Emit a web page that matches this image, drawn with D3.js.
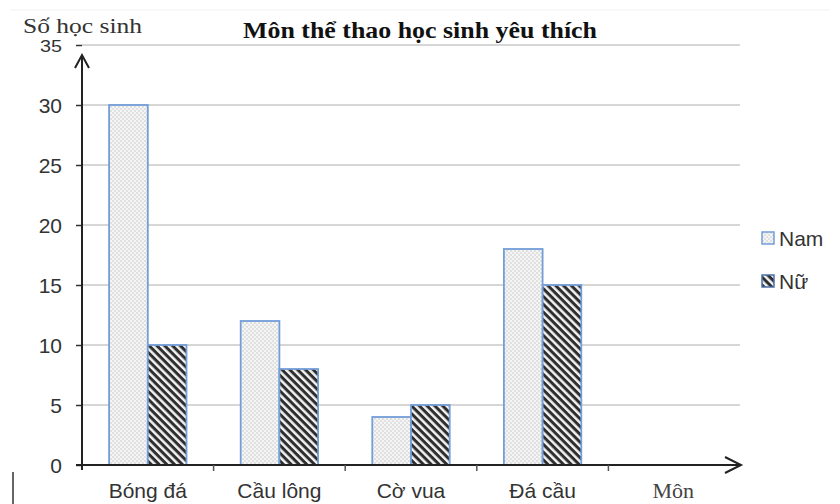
<!DOCTYPE html>
<html><head><meta charset="utf-8">
<script src="https://cdn.jsdelivr.net/npm/d3@7"></script>
<style>body{margin:0;background:#fff}svg{display:block}</style>
</head><body>
<script>
const categories = ["Bóng đá", "Cầu lông", "Cờ vua", "Đá cầu"];
const seriesNames = ["Nam", "Nữ"];
const namValues = [30, 12, 4, 18];
const nuValues = [10, 8, 5, 15];
const yTicks = [0, 5, 10, 15, 20, 25, 30, 35];
const title = "Môn thể thao học sinh yêu thích";
const yTitle = "Số học sinh";
const xTitle = "Môn";

const W = 840, H = 504;
const sans = "Arial, 'Liberation Sans', sans-serif";
const serif = "'Times New Roman', 'Liberation Serif', serif";
const svg = d3.select("body").append("svg").attr("width", W).attr("height", H);
const defs = svg.append("defs");
const dots = defs.append("pattern").attr("id","dots").attr("patternUnits","userSpaceOnUse").attr("width",4).attr("height",4);
dots.append("rect").attr("width",4).attr("height",4).attr("fill","#f5f5f5");
dots.append("circle").attr("cx",1).attr("cy",1).attr("r",0.75).attr("fill","#c2c2c2");
dots.append("circle").attr("cx",3).attr("cy",3).attr("r",0.75).attr("fill","#c2c2c2");
const stripes = defs.append("pattern").attr("id","stripes").attr("patternUnits","userSpaceOnUse").attr("width",5.5).attr("height",5.5).attr("patternTransform","rotate(45)");
stripes.append("rect").attr("width",5.5).attr("height",5.5).attr("fill","#f2f2f2");
stripes.append("rect").attr("width",5.5).attr("height",3).attr("fill","#2e2e2e");

// faint top line
svg.append("line").attr("x1",10).attr("x2",830).attr("y1",10).attr("y2",10).attr("stroke","#f2f2f2");

const x0 = 82, x1 = 740, yBase = 465, yTop = 45;
const slots = categories.concat([""]);
const x = d3.scaleBand().domain(d3.range(slots.length)).range([x0, x1]).paddingInner(0).paddingOuter(0);
const y = d3.scaleLinear().domain([0, 35]).range([yBase, yTop]);
const xs = d3.scaleBand().domain(seriesNames).range([0, x.bandwidth()]).paddingInner(0).paddingOuter(0.7);

// grid
svg.append("g").selectAll("line").data(yTicks.filter(d => d > 0)).join("line")
  .attr("x1", x0).attr("x2", x1).attr("y1", d => y(d)).attr("y2", d => y(d))
  .attr("stroke", "#c8c8c8").attr("stroke-width", 1.5);

// bars
const data = categories.map((c, i) => ({i, vals: [namValues[i], nuValues[i]]}));
const g = svg.append("g");
data.forEach(d => {
  seriesNames.forEach((s, j) => {
    g.append("rect")
      .attr("x", x(d.i) + xs(s)).attr("width", xs.bandwidth())
      .attr("y", y(d.vals[j])).attr("height", yBase - y(d.vals[j]))
      .attr("fill", j === 0 ? "url(#dots)" : "url(#stripes)")
      .attr("stroke", "#739ed8").attr("stroke-width", 1.8);
  });
});

// y axis
const yAxis = d3.axisLeft(y).tickValues(yTicks).tickSize(6).tickPadding(14);
const ya = svg.append("g").attr("transform", `translate(${x0},0)`).call(yAxis);
ya.select(".domain").remove();
ya.selectAll(".tick line").attr("stroke", "#333").attr("stroke-width", 1.5);
ya.selectAll(".tick text").attr("font-family", sans).attr("font-size", d => d === 35 ? 16 : 21).attr("fill", "#333")
  .attr("dy", d => d === 35 ? "0.42em" : "0.34em");
ya.selectAll(".tick text").filter(d => d === 35)
  .attr("textLength", 22).attr("lengthAdjust", "spacingAndGlyphs");
svg.append("line").attr("x1", x0).attr("x2", x0).attr("y1", yBase + 5).attr("y2", 55)
  .attr("stroke", "#222").attr("stroke-width", 2);
svg.append("path").attr("d", `M${x0-7},68 L${x0},55 L${x0+7},68`)
  .attr("fill", "none").attr("stroke", "#222").attr("stroke-width", 2);

// x axis
svg.append("line").attr("x1", x0 - 6).attr("x2", x1 + 1).attr("y1", yBase).attr("y2", yBase)
  .attr("stroke", "#222").attr("stroke-width", 2);
svg.append("path").attr("d", `M${x1-15},${yBase-8} L${x1+1},${yBase} L${x1-15},${yBase+8}`)
  .attr("fill", "none").attr("stroke", "#222").attr("stroke-width", 2);
svg.append("g").selectAll("line").data(d3.range(1, slots.length)).join("line")
  .attr("x1", d => x(d)).attr("x2", d => x(d)).attr("y1", yBase).attr("y2", yBase + 6)
  .attr("stroke", "#555").attr("stroke-width", 1.5);
svg.append("g").selectAll("text").data(categories).join("text")
  .attr("x", (d, i) => x(i) + x.bandwidth() / 2).attr("y", 498)
  .attr("text-anchor", "middle").attr("font-family", sans)
  .attr("font-size", 21).attr("fill", "#333").text(d => d);
svg.append("text").attr("x", x(4) + x.bandwidth() / 2 - 1).attr("y", 498).attr("text-anchor", "middle")
  .attr("font-family", serif).attr("font-size", 22).attr("fill", "#444").text(xTitle);

// titles
svg.append("text").attr("x", 243).attr("y", 38)
  .attr("font-family", serif).attr("font-weight", "bold")
  .attr("font-size", 23).attr("fill", "#111")
  .attr("textLength", 354).attr("lengthAdjust", "spacingAndGlyphs").text(title);
svg.append("text").attr("x", 23).attr("y", 33)
  .attr("font-family", serif)
  .attr("font-size", 20).attr("fill", "#333")
  .attr("textLength", 119).attr("lengthAdjust", "spacingAndGlyphs").text(yTitle);

// legend
const leg = svg.append("g").attr("transform", "translate(762,232)");
seriesNames.forEach((s, j) => {
  const lg = leg.append("g").attr("transform", `translate(0,${j * 43})`);
  lg.append("rect").attr("width", 12).attr("height", 12)
    .attr("fill", j === 0 ? "url(#dots)" : "url(#stripes)").attr("stroke", j === 0 ? "#739ed8" : "#4a6fa8").attr("stroke-width", 1.5);
  lg.append("text").attr("x", 17).attr("y", 14).attr("font-family", sans)
    .attr("font-size", 21).attr("fill", "#333").text(s);
});

// small mark at bottom-left
svg.append("line").attr("x1", 13).attr("x2", 13).attr("y1", 472).attr("y2", 504).attr("stroke", "#333").attr("stroke-width", 1.5);
</script>
</body></html>
